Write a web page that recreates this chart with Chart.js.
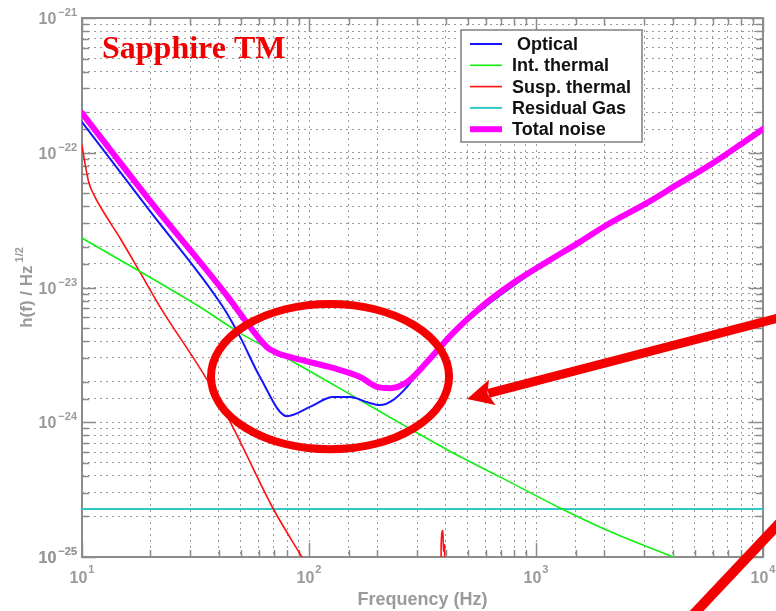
<!DOCTYPE html>
<html>
<head>
<meta charset="utf-8">
<title>Sapphire TM noise budget</title>
<script src="https://cdn.jsdelivr.net/npm/chart.js@4.4.1/dist/chart.umd.min.js"></script>
<style>
  html, body { margin: 0; padding: 0; background: #fff; }
  #wrap { width: 776px; height: 611px; }
</style>
</head>
<body>
<div id="wrap"><canvas id="myChart" width="776" height="611"></canvas></div>
<script>
// values: frequency in Hz, h(f) in 1/sqrt(Hz)
var freqOptical = [10, 19.9, 41.8, 49.7, 60.8, 80.0, 100.9, 127.6, 151.7, 180.3, 205.6, 234.4, 270.4, 308.3, 430.5, 647.1, 1117, 2014, 4305, 10000];
var hOptical    = [1.69e-22, 3.70e-23, 7.16e-24, 4.30e-24, 2.17e-24, 1.11e-24, 1.30e-24, 1.54e-24, 1.54e-24, 1.41e-24, 1.34e-24, 1.46e-24, 1.83e-24, 2.44e-24, 4.55e-24, 8.0e-24, 1.53e-23, 2.83e-23, 5.9e-23, 1.48e-22];

var freqIntTh = [10, 33.1, 49.7, 82.4, 167.9, 270.4, 448.7, 693.4, 1276, 2056, 4018, 10000];
var hIntTh    = [2.33e-23, 7.16e-24, 4.59e-24, 2.90e-24, 1.46e-24, 9.2e-25, 5.71e-25, 3.93e-25, 2.31e-25, 1.58e-25, 1.0e-25, 5.3e-26];

var freqSuspTh = [10, 10.3, 10.7, 11.4, 12.6, 14.7, 18.0, 22.1, 35.6, 46.2, 69.3, 93.1, 120, 381, 382, 389, 391, 396, 397, 10000];
var hSuspTh    = [1.14e-22, 8.39e-23, 6.07e-23, 4.70e-23, 3.51e-23, 2.33e-23, 1.30e-23, 7.16e-24, 2.06e-24, 9.2e-25, 2.31e-25, 1.0e-25, 4.9e-26, 1e-27, 1.23e-25, 1.58e-25, 1.1e-25, 1.23e-25, 1e-27, 1e-28];

var freqGas = [10, 10000];
var hGas    = [2.27e-25, 2.27e-25];

var freqTotal = [10, 19.9, 44.0, 55.0, 65.3, 72.3, 85.1, 127.6, 167.9, 199.5, 227.5, 270.4, 331.1, 430.5, 566.2, 792.5, 1117, 1563, 2014, 3083, 4305, 6026, 8511, 10000];
var hTotal    = [1.97e-22, 4.41e-23, 8.49e-24, 5.09e-24, 3.61e-24, 3.27e-24, 3.00e-24, 2.53e-24, 2.17e-24, 1.83e-24, 1.79e-24, 1.99e-24, 2.80e-24, 4.59e-24, 7.05e-24, 1.08e-23, 1.55e-23, 2.18e-23, 2.86e-23, 4.24e-23, 5.97e-23, 8.39e-23, 1.245e-22, 1.50e-22];

var freqRange = [10, 10000];
var hRange = [1e-25, 1e-21];

// hand-drawn marks on top of the plot, in data coordinates
var ringFreq = [37, 414];
var ringH = [6.3e-25, 7.55e-24];
var arrowFreq = [13150, 497];
var arrowH = [6.25e-24, 1.49e-24];
var slashFreq = [13150, 4764];
var slashH = [2.16e-25, 3.52e-26];

var GRAY = '#9a9a9a';
var SANS = '"Liberation Sans", Arial, sans-serif';

function isDecade(v){
    var e = Math.log10(v);
    return Math.abs(e - Math.round(e)) < 1e-6;
}

function expOf(v){
    return String(Math.round(Math.log10(v))).replace('-', '\u2212');
}

function pts(xs, ys){
    return xs.map(function(x, i){ return {x: x, y: ys[i]}; });
}

var framePlugin = {
    id: 'frame',
    beforeDatasetsDraw: function(chart){
        var ctx = chart.ctx, a = chart.chartArea;
        var xs = chart.scales.x, ys = chart.scales.y;
        ctx.save();
        ctx.strokeStyle = '#8c8c8c';
        ctx.lineWidth = 1.5;
        ctx.beginPath();
        xs.ticks.forEach(function(t){
            var px = Math.round(xs.getPixelForValue(t.value)) + 0.5;
            var len = isDecade(t.value) ? 14 : 7;
            ctx.moveTo(px, a.bottom); ctx.lineTo(px, a.bottom - len);
            ctx.moveTo(px, a.top); ctx.lineTo(px, a.top + len);
        });
        ys.ticks.forEach(function(t){
            var py = Math.round(ys.getPixelForValue(t.value)) + 0.5;
            var len = isDecade(t.value) ? 14 : 7;
            ctx.moveTo(a.left, py); ctx.lineTo(a.left + len, py);
            ctx.moveTo(a.right, py); ctx.lineTo(a.right - len, py);
        });
        ctx.stroke();
        ctx.lineWidth = 2;
        ctx.strokeRect(a.left, a.top, a.right - a.left, a.bottom - a.top);
        ctx.restore();
    }
};

// decade labels as 10 with a raised exponent
var tickLabelPlugin = {
    id: 'tickLabels',
    afterDraw: function(chart){
        var ctx = chart.ctx, a = chart.chartArea;
        var xs = chart.scales.x, ys = chart.scales.y;
        ctx.save();
        ctx.fillStyle = GRAY;
        ctx.textBaseline = 'alphabetic';
        ctx.textAlign = 'left';
        var big = 'bold 16px ' + SANS, small = 'bold 11px ' + SANS;
        ctx.font = big;
        var w10 = ctx.measureText('10').width;

        ys.ticks.forEach(function(t){
            if(!isDecade(t.value)) return;
            var py = ys.getPixelForValue(t.value);
            var ex = expOf(t.value);
            ctx.font = small;
            var we = ctx.measureText(ex).width;
            var right = a.left - 5;
            ctx.fillText(ex, right - we, py - 2);
            ctx.font = big;
            ctx.fillText('10', right - we - 2 - w10, py + 6);
        });

        xs.ticks.forEach(function(t){
            if(!isDecade(t.value)) return;
            var px = xs.getPixelForValue(t.value);
            var ex = expOf(t.value);
            ctx.font = small;
            var we = ctx.measureText(ex).width;
            var left = px - (w10 + 1 + we) / 2;
            ctx.font = big;
            ctx.fillText('10', left, a.bottom + 26);
            ctx.font = small;
            ctx.fillText(ex, left + w10 + 1, a.bottom + 16);
        });
        ctx.restore();
    }
};

var decorPlugin = {
    id: 'decor',
    afterDraw: function(chart){
        var ctx = chart.ctx, a = chart.chartArea;
        var xs = chart.scales.x, ys = chart.scales.y;
        ctx.save();

        // y axis title with the 1/2 exponent
        var cy = (a.top + a.bottom) / 2;
        ctx.translate(32, cy);
        ctx.rotate(-Math.PI / 2);
        ctx.fillStyle = GRAY;
        ctx.textBaseline = 'alphabetic';
        ctx.font = 'bold 17px ' + SANS;
        var main = 'h(f) / Hz';
        var w1 = ctx.measureText(main).width;
        ctx.font = 'bold 11px ' + SANS;
        var w2 = ctx.measureText('1/2').width;
        var x0 = -(w1 + 3 + w2) / 2;
        ctx.font = 'bold 17px ' + SANS;
        ctx.fillText(main, x0, 0);
        ctx.font = 'bold 11px ' + SANS;
        ctx.fillText('1/2', x0 + w1 + 3, -9);
        ctx.setTransform(1, 0, 0, 1, 0, 0);

        // title inside the plot
        ctx.fillStyle = '#f20000';
        ctx.font = 'bold 32px "Liberation Serif", "Times New Roman", serif';
        ctx.textAlign = 'left';
        ctx.fillText('Sapphire TM', a.left + 20, a.top + 40);

        // legend box
        var bx = a.left + 379, by = a.top + 12, bw = 181, bh = 112;
        ctx.fillStyle = '#fff';
        ctx.fillRect(bx, by, bw, bh);
        ctx.strokeStyle = '#808080';
        ctx.lineWidth = 1.5;
        ctx.strokeRect(bx, by, bw, bh);
        ctx.font = 'bold 18px ' + SANS;
        ctx.textBaseline = 'middle';
        chart.data.datasets.forEach(function(ds, i){
            var ry = by + 14 + i * 21.3;
            ctx.strokeStyle = ds.borderColor;
            ctx.lineWidth = ds.borderWidth;
            ctx.beginPath();
            ctx.moveTo(bx + 9, ry);
            ctx.lineTo(bx + 41, ry);
            ctx.stroke();
            ctx.fillStyle = '#111';
            ctx.fillText(ds.label, bx + 51, ry + 1);
        });

        // red ring, arrow and slash
        ctx.strokeStyle = '#f40000';
        ctx.fillStyle = '#f40000';
        var l = xs.getPixelForValue(ringFreq[0]), r = xs.getPixelForValue(ringFreq[1]);
        var b = ys.getPixelForValue(ringH[0]), t = ys.getPixelForValue(ringH[1]);
        ctx.lineWidth = 8;
        ctx.beginPath();
        ctx.ellipse((l + r) / 2, (t + b) / 2, (r - l) / 2, (b - t) / 2, 0, 0, Math.PI * 2);
        ctx.stroke();

        var tx = xs.getPixelForValue(arrowFreq[0]), ty = ys.getPixelForValue(arrowH[0]);
        var hx = xs.getPixelForValue(arrowFreq[1]), hy = ys.getPixelForValue(arrowH[1]);
        var len = Math.hypot(hx - tx, hy - ty);
        var ux = (hx - tx) / len, uy = (hy - ty) / len;
        var bxh = hx - ux * 26, byh = hy - uy * 26;
        ctx.lineWidth = 9;
        ctx.beginPath();
        ctx.moveTo(tx, ty);
        ctx.lineTo(bxh + ux * 4, byh + uy * 4);
        ctx.stroke();
        ctx.beginPath();
        ctx.moveTo(hx, hy);
        ctx.lineTo(bxh - uy * 13, byh + ux * 13);
        ctx.lineTo(bxh + ux * 5, byh + uy * 5);
        ctx.lineTo(bxh + uy * 13, byh - ux * 13);
        ctx.closePath();
        ctx.fill();

        ctx.lineWidth = 10;
        ctx.beginPath();
        ctx.moveTo(xs.getPixelForValue(slashFreq[0]), ys.getPixelForValue(slashH[0]));
        ctx.lineTo(xs.getPixelForValue(slashFreq[1]), ys.getPixelForValue(slashH[1]));
        ctx.stroke();

        ctx.restore();
    }
};

var data = {
    datasets: [
        { label: ' Optical', data: pts(freqOptical, hOptical), borderColor: '#1414ff', borderWidth: 2 },
        { label: 'Int. thermal', data: pts(freqIntTh, hIntTh), borderColor: '#10f010', borderWidth: 1.6 },
        { label: 'Susp. thermal', data: pts(freqSuspTh, hSuspTh), borderColor: '#ff1010', borderWidth: 1.6 },
        { label: 'Residual Gas', data: pts(freqGas, hGas), borderColor: '#33c6c6', borderWidth: 2 },
        { label: 'Total noise', data: pts(freqTotal, hTotal), borderColor: '#ff00ff', borderWidth: 6, order: -1 }
    ]
};

const config = {
    type: 'line',
    data: data,
    options: {
        responsive: false,
        animation: false,
        devicePixelRatio: 1,
        events: [],
        elements: {
            point: { radius: 0 },
            line: { cubicInterpolationMode: 'monotone', borderJoinStyle: 'round', borderCapStyle: 'round' }
        },
        layout: { padding: { top: 18, right: 13, left: 0, bottom: 0 } },
        plugins: {
            legend: { display: false },
            tooltip: { enabled: false }
        },
        scales: {
            x: {
                type: 'logarithmic',
                min: freqRange[0],
                max: freqRange[1],
                afterFit: function(s){ s.height = 54; s.paddingLeft = 0; s.paddingRight = 0; },
                grid: { color: GRAY, lineWidth: 1, drawTicks: false },
                border: { display: false, dash: [2, 4] },
                ticks: { display: false, autoSkip: false, maxRotation: 0 },
                title: {
                    display: true, text: 'Frequency (Hz)', color: GRAY,
                    font: { family: SANS, size: 18, weight: 'bold' },
                    padding: { top: 0, bottom: 0 }
                }
            },
            y: {
                type: 'logarithmic',
                min: hRange[0],
                max: hRange[1],
                afterFit: function(s){ s.width = 82; },
                grid: { color: GRAY, lineWidth: 1, drawTicks: false },
                border: { display: false, dash: [2, 4] },
                ticks: { display: false, autoSkip: false }
            }
        }
    },
    plugins: [framePlugin, tickLabelPlugin, decorPlugin]
};

const myChart = new Chart(document.getElementById('myChart'), config);
</script>
</body>
</html>
